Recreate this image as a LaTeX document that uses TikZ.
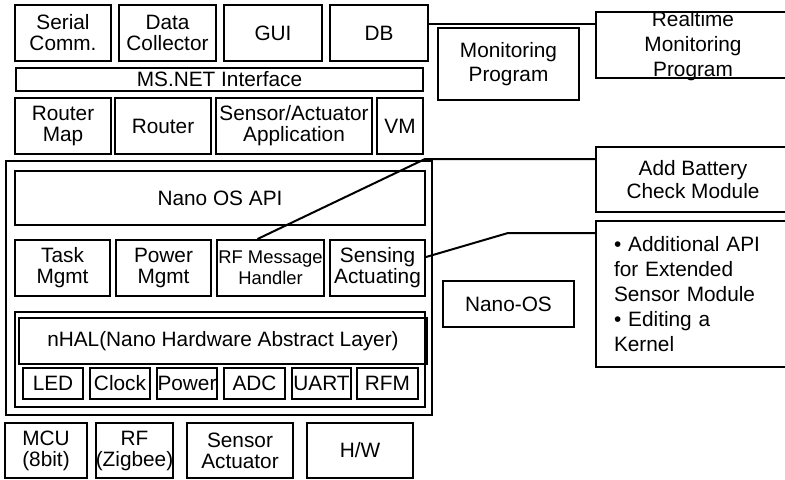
\documentclass[tikz,border=0pt]{standalone}
\usepackage{fontspec}
\setmainfont{Liberation Sans}
\usepackage{tikz}

\begin{document}
\begin{tikzpicture}[x=0.5pt, y=-0.5pt, line width=1pt,
  blk/.style={draw, inner sep=0pt, align=center, font=\fontsize{10.4}{10.5}\selectfont},
  note/.style={draw, inner sep=0pt, align=center, font=\fontsize{10.4}{12}\selectfont},
  frame/.style={draw, inner sep=0pt}]

% canvas = 785 x 479 px of the reference, 1 px = 0.5 pt
\useasboundingbox (0,0) rectangle (785,479);
\clip (0,0) rectangle (785,479);

% \blk{style}{name}{x1}{y1}{x2}{y2}{text}: box between two corners
\def\blk#1#2#3#4#5#6#7{\node[#1, minimum width={(#5-#3)*0.5pt}, minimum height={(#6-#4)*0.5pt}] (#2) at ({(#3+#5)/2},{(#4+#6)/2}) {#7};}

%--- Application layer (PC side) ---
\blk{blk}{serial}{15}{5}{111}{61}{Serial\\Comm.}
\blk{blk}{collector}{119}{5}{216}{61}{Data\\Collector}
\blk{blk}{gui}{224}{5}{322}{61}{GUI}
\blk{blk}{db}{330}{5}{428}{61}{DB}
\blk{blk}{msnet}{16}{68}{423}{91}{MS.NET Interface}
\blk{blk}{routermap}{15}{98}{111}{154}{Router\\Map}
\blk{blk}{router}{115}{98}{211}{154}{Router}
\blk{blk}{sensorapp}{216}{98}{372}{154}{Sensor/Actuator\\Application}
\blk{blk}{vm}{377}{98}{423}{154}{VM}

%--- Nano-OS container ---
\blk{frame}{nanoos}{6}{161}{432}{415}{}
\blk{blk}{osapi}{15}{171}{425}{225}{Nano OS API}
\blk{blk}{taskmgmt}{15}{240}{110}{296}{Task\\Mgmt}
\blk{blk}{powermgmt}{116}{240}{211}{296}{Power\\Mgmt}
\blk{blk, font=\fontsize{9.2}{10.5}\selectfont}{rfmsg}{217}{240}{324}{296}{RF Message\\Handler}
\blk{blk}{sensing}{330}{240}{425}{296}{Sensing\\Actuating}

% nHAL group
\blk{frame}{halgroup}{15}{312}{425}{407}{}
\blk{blk}{nhal}{19}{318}{427}{364}{nHAL(Nano Hardware Abstract Layer)}
\blk{blk}{led}{23}{368}{83}{399}{LED}
\blk{blk}{clock}{90}{368}{150}{399}{Clock}
\blk{blk}{power}{157}{368}{217}{399}{Power}
\blk{blk}{adc}{224}{368}{285}{399}{ADC}
\blk{blk}{uart}{292}{368}{351}{399}{UART}
\blk{blk}{rfm}{357}{368}{418}{399}{RFM}

%--- Hardware ---
\blk{blk}{mcu}{5}{423}{87}{478}{MCU\\(8bit)}
\blk{blk}{rfzig}{96}{423}{173}{478}{RF\\(Zigbee)}
\blk{blk}{sensoract}{187}{423}{293}{478}{Sensor\\Actuator}
\blk{blk}{hw}{307}{423}{413}{478}{H/W}

%--- Labels / notes on the right ---
\blk{note}{monprog}{438}{28}{579}{100}{Monitoring\\Program}
\blk{note}{nanolabel}{443}{281}{574}{327}{Nano-OS}
\blk{frame}{rtmon}{596}{12}{790}{78}{}
\node[align=center, font=\fontsize{10.4}{12.5}\selectfont] (rtmontext) at (693,46.5) {Realtime\\Monitoring\\Program};
\blk{note, font=\fontsize{10.4}{11.5}\selectfont}{battery}{596}{147}{790}{212}{Add Battery\\Check Module}
\blk{note, align=left, inner xsep=9pt, text width=79pt, font=\fontsize{10.4}{12.5}\selectfont}{extapi}{596}{221}{790}{367}{• Additional API\\for Extended\\Sensor Module\\• Editing a\\Kernel}

%--- Connectors ---
\coordinate (battturn) at (425,159);
\coordinate (senseturn) at (508,233);
\draw ([yshift=4.5pt]db.east) -- ([yshift=4.5pt]db.east -| rtmon.west);
\draw ([xshift=-6.5pt]rfmsg.north) -- (battturn) -- (battturn -| battery.west);
\draw ([yshift=5.5pt]sensing.east) -- (senseturn) -- (senseturn -| extapi.west);

\end{tikzpicture}
\end{document}
